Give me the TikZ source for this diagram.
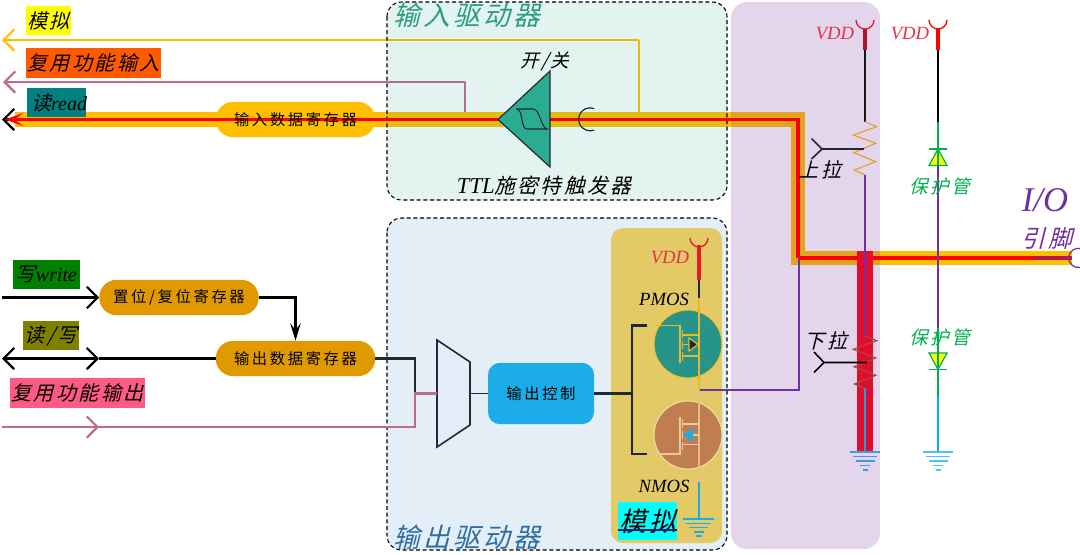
\documentclass[tikz,border=0pt]{standalone}
\usepackage{fontspec}
\usetikzlibrary{arrows.meta}
\setmainfont{Liberation Serif}
\newfontfamily\cjk[FakeSlant=0.25,LetterSpace=12]{Noto Sans CJK SC}
\newfontfamily\cjkup[LetterSpace=17]{Noto Sans CJK SC}
\newcommand{\szc}[1]{\fontsize{#1}{#1}\selectfont}
\newcommand{\nb}[1]{\makebox[0pt]{#1}}
\definecolor{amber}{HTML}{FFC000}
\definecolor{rose}{HTML}{C0698F}
\definecolor{tealp}{HTML}{2CA58D}
\definecolor{bluep}{HTML}{5B9BD5}
\definecolor{purp}{HTML}{7030A0}
\definecolor{goldp}{HTML}{E3CA66}
\definecolor{regdark}{HTML}{E09A00}
\definecolor{gr}{HTML}{00B050}
\definecolor{sky}{HTML}{1CADE8}
\definecolor{ink}{HTML}{1F2A36}
\definecolor{vddred}{HTML}{E8304A}
\definecolor{antred}{HTML}{E21D2D}
\definecolor{antdark}{HTML}{A81530}
\definecolor{barred}{HTML}{E20C2C}
\definecolor{mosyel}{HTML}{E8B828}
\definecolor{mospale}{HTML}{EEC896}
\definecolor{paleline}{HTML}{E8BE82}
\definecolor{resup}{HTML}{E2A532}
\definecolor{resdn}{HTML}{A0503A}
\definecolor{blueln}{HTML}{1CA0D8}
\definecolor{gndA}{HTML}{4696E1}
\definecolor{gndB}{HTML}{50C3F5}
\definecolor{cyanln}{HTML}{00B0F0}
\definecolor{ulblue}{HTML}{0A1E6E}
\definecolor{tagorange}{HTML}{FF5A00}
\definecolor{tagteal}{HTML}{008080}
\definecolor{taggreen}{HTML}{008000}
\definecolor{tagolive}{HTML}{808000}
\definecolor{tagpink}{HTML}{FF5A82}
\definecolor{tagcyan}{HTML}{00FFFF}
\definecolor{tagyellow}{HTML}{FFFF00}
\definecolor{tritri}{HTML}{2BAB8F}
\definecolor{inhead}{HTML}{2A9D80}
\definecolor{outhead}{HTML}{2E6DA4}
\definecolor{muxfill}{HTML}{E2EDF7}
\definecolor{pmosf}{HTML}{26948A}
\definecolor{nmosf}{HTML}{C07D50}
\tikzset{
  pxsize/.style={x=0.75pt,y=-0.75pt},
  barb/.tip={Straight Barb[length=8pt,width=16pt,line width=1.6pt]},
  panel/.style={rounded corners=11pt,fill opacity=#1,draw opacity=1},
  pill/.style={fill=amber,rounded corners=13pt,minimum width=119.5pt,minimum height=26.5pt,inner sep=0pt,font=\cjkup\szc{11.5}},
  labeltxt/.style={inner sep=0pt,font=\cjk\szc{15}},
  latin/.style={inner sep=0pt,font=\itshape\szc{14}},
  wire/.style={line width=1.2pt},
  heavy/.style={line width=1.7pt},
  gnd/.style={line width=0.9pt},
  mos/.style={line width=0.85pt},
}
\begin{document}
\begin{tikzpicture}[pxsize]
\useasboundingbox (0,0) rectangle (1080,554);
\fill[white] (0,0) rectangle (1080,554);
% anchors
\coordinate (wL) at (15,119.5);
\coordinate (wC1) at (798,119.5);
\coordinate (wC2) at (798,258);
\coordinate (wR) at (1072,258);
\coordinate (aL) at (2,40);
\coordinate (aC) at (639,40);
\coordinate (aD) at (639,119.5);
\coordinate (pL) at (3,82);
\coordinate (pC) at (465,82);
\coordinate (pD) at (465,119.5);
% under-panel wiring
\draw[amber,heavy,-{barb}] (aC) -- (aL);
\draw[amber,heavy] (aC) -- (aD);
\draw[rose,heavy,-{barb}] (pC) -- (pL);
\draw[rose,heavy] (pC) -- (pD);
\draw[amber,line width=10.8pt,miter limit=10] (wL) -- (wC1) -- (wC2) -- (wR);
% panels
\node[pill,minimum width=119.5pt] (inreg) at (295.5,119.5) {};
\fill[purp,fill opacity=.2,rounded corners=12pt] (731,2) rectangle (880,549);
\draw[fill=tealp,panel=.13,densely dashed,line width=.8pt] (387,2) rectangle (727,200);
\draw[fill=bluep,panel=.17,densely dashed,line width=.8pt] (387,218) rectangle (727,550);
\fill[goldp,rounded corners=9pt] (611,228) rectangle (722,543);
% read line
\coordinate (bL) at (2,119.5);
\coordinate (rT) at (5,119.5);
\draw[black,heavy,-{barb}] (wL) -- (bL);
\draw[red,line width=2.3pt,-{Stealth[length=14pt,width=10pt,inset=7pt]}] (wC2) -- (wC1) -- (rT);
\draw[red,line width=2.3pt] (wC2) -- (wR);
% labels top left
\node[fill=tagyellow,minimum width=33.75pt,minimum height=22pt,inner sep=0pt,font=\cjk\szc{15}] (tmn) at (48.5,20.5) {\nb{模拟}};
\node[fill=tagorange,minimum width=101pt,minimum height=22.5pt,inner sep=0pt,font=\cjk\szc{15}] (tmux) at (93.5,63) {\nb{复用功能输入}};
\node[fill=tagteal,minimum width=44pt,minimum height=22pt,inner sep=0pt] (trd) at (56.5,102.5) {\nb{\hspace{4pt}\cjk\szc{15}读\rmfamily\itshape\szc{15}read}};
\node[inner sep=0pt,font=\cjkup\szc{11.5}] (inregt) at (295.5,119.5) {输入数据寄存器};
% schmitt
\node[inner sep=0pt,font=\cjk\szc{20},text=inhead] (tin) at (467,15) {输入驱动器};
\node[inner sep=0pt,font=\cjk\szc{14}] (ton) at (545,61) {开/关};
\node[inner sep=0pt] (ttt) at (544,186) {\itshape\szc{17}TTL\cjk\szc{15.5}施密特触发器};
\draw[ink,line width=.9pt,fill=tritri] (498,119.5) -- (550,71) -- (550,167) -- cycle;
\draw[ink,line width=.8pt] (516,109) -- (533,109) .. controls (540,109) and (541,128) .. (547,129) -- (527,129) .. controls (520,129) and (524,109) .. (516,109);
\draw[ink,line width=.9pt] (594,108.5) arc[start angle=-70,end angle=-290,radius=11.5];
% output driver
\node[inner sep=0pt,font=\cjk\szc{20},text=outhead] (tout) at (467,537) {输出驱动器};
\node[fill=sky,rounded corners=9pt,minimum width=79.5pt,minimum height=46pt,inner sep=0pt,font=\cjkup\szc{11.5}] (ctl) at (541,393.5) {输出控制};
\draw[ink,line width=1.2pt,fill=muxfill] (437,340) -- (470,362) -- (470,425) -- (437,447) -- cycle;
\coordinate (muxL) at (437,393.5);
\coordinate (muxR) at (470,393.5);
\coordinate (brM) at (632,393.5);
\coordinate (brT) at (632,325.5);
\coordinate (brB) at (632,454);
\coordinate (brTe) at (647,325.5);
\coordinate (brBe) at (647,454);
\draw[ink,wire] (muxR) -- (ctl.west);
\draw[ink,heavy] (ctl.east) -- (brM);
\draw[ink,heavy] (brTe) -- (brT) -- (brB) -- (brBe);
% regs
\node[pill,fill=regdark] (setr) at (179,297.5) {置位/复位寄存器};
\node[pill,fill=regdark] (outr) at (295.5,358.5) {输出数据寄存器};
\coordinate (wI) at (2,297.5);
\coordinate (dL) at (2,358.5);
\coordinate (dM) at (99,358.5);
\coordinate (sC) at (295.5,297.5);
\coordinate (oC) at (415,358.5);
\coordinate (oM) at (415,393.5);
\coordinate (oB) at (415,427);
\coordinate (mI) at (2,427);
\coordinate (mM) at (99,427);
\draw[black,heavy,-{barb}] (wI) -- (setr.west);
\draw[black,heavy,-{Stealth[length=13pt,width=8pt,inset=5pt]}] (setr.east) -- (sC) -- (outr.north);
\draw[black,heavy,{barb}-{barb}] (dL) -- (dM);
\draw[black,heavy] (dM) -- (outr.west);
\draw[ink,heavy] (outr.east) -- (oC) -- (oM);
\draw[rose,heavy] (muxL) -- (oM) -- (oB) -- (mI);
\draw[rose,heavy,-{barb}] (mI) -- (mM);
\node[fill=taggreen,minimum width=50pt,minimum height=22pt,inner sep=0pt] (twr) at (46.5,274.5) {\nb{\cjk\szc{15}写\rmfamily\itshape\szc{15}write}};
\node[fill=tagolive,minimum width=42pt,minimum height=22pt,inner sep=0pt,font=\cjk\szc{15}] (trw) at (51,335.5) {\nb{读/写}};
\node[fill=tagpink,minimum width=101pt,minimum height=22.5pt,inner sep=0pt,font=\cjk\szc{15}] (tmo) at (77.5,393) {\nb{复用功能输出}};
% gold panel: mos
\node[circle,draw=amber!80!goldp,line width=.8pt,fill=pmosf,minimum size=51pt,inner sep=0pt] (pm) at (688,344) {};
\node[circle,draw=goldp!60!white,line width=.8pt,fill=nmosf,minimum size=51pt,inner sep=0pt] (nm) at (688,435) {};
\coordinate (vT) at (699,245);
\coordinate (vA) at (699,280);
\coordinate (vB) at (699,298);
\coordinate (vC) at (699,390);
\coordinate (vD) at (699,482);
\coordinate (vG) at (699,519);
\draw[purp,wire] (vC) -- (799,390) -- (799,258);
\draw[antred,line width=2.8pt] (vT) -- (vA);
\draw[antred,line width=1pt] (690,238) arc[start angle=180,end angle=0,radius=9];
\draw[ink,wire] (vA) -- (vB);
\draw[mosyel,wire] (vB) -- (vC);
\draw[paleline,wire] (vC) -- (vD);
\draw[sky,wire] (vD) -- (vG);
% pmos symbol
\begin{scope}[draw=mosyel,mos]
\draw (654,325.5) -- (680,325.5) -- (680,363);
\draw (682.5,330) -- (682.5,338) (682.5,341) -- (682.5,349) (682.5,352) -- (682.5,361);
\draw (682.5,335) -- (699,335) (682.5,356) -- (699,356) (682.5,344.5) -- (690,344.5);
\draw[fill=ink] (689,338) -- (698,344.5) -- (689,351) -- cycle;
\end{scope}
% nmos symbol
\begin{scope}[draw=mospale,mos]
\draw (654,454) -- (680,454) -- (680,417);
\draw (682.5,419) -- (682.5,428) (682.5,431) -- (682.5,439) (682.5,442) -- (682.5,450);
\draw (682.5,424) -- (699,424) (682.5,444.5) -- (699,444.5) (692,435) -- (699,435);
\fill[sky] (683,435) -- (693,428) -- (693,442) -- cycle;
\end{scope}
\node[latin,text=vddred] (v1) at (670,258) {VDD};
\node[latin] (tpm) at (664,299) {PMOS};
\node[latin] (tnm) at (664,486) {NMOS};
\node[fill=tagcyan,minimum width=44pt,minimum height=28.5pt,inner sep=0pt,font=\cjk\szc{20}] (tsim) at (647.5,521) {\nb{模拟}};
\coordinate (ulL) at (618,530);
\coordinate (ulR) at (677,530);
\draw[ulblue,line width=1.3pt] (ulL) -- (ulR);
% ground a
\draw[sky,gnd] (683,519) -- (714,519) (686,523.5) -- (711,523.5) (689,527.5) -- (708,527.5) (694,532) -- (704,532) (696,536) -- (702,536);
% pull up/down column
\coordinate (rA) at (865,50);
\coordinate (rB) at (865,121.7);
\coordinate (rC) at (865,175);
\coordinate (rD) at (865,335.7);
\coordinate (rE) at (865,388.3);
\coordinate (rF) at (865,451);
\fill[barred] (857,251) rectangle (873.3,451);
\draw[antdark,line width=2.8pt] (865,28) -- (rA);
\draw[antred,line width=1pt] (856,20) arc[start angle=180,end angle=0,radius=9];
\draw[black!90,wire] (rA) -- (rB);
\draw[resup,line width=.9pt] (rB) -- (876.7,126.7) -- (853.3,135) -- (875.7,143.3) -- (854,152.7) -- (875.7,161.7) -- (854.3,170) -- (rC);
\draw[purp,wire] (rC) -- (rD);
\draw[resdn,line width=.9pt] (rD) -- (876.7,340.7) -- (853.3,349.3) -- (875.7,358) -- (854,366.7) -- (875.7,375.3) -- (854.3,384) -- (rE);
\draw[blueln,wire] (rE) -- (rF);
\coordinate (sw1) at (822,149);
\coordinate (sw1e) at (864,149);
\coordinate (sw2) at (824,362.5);
\coordinate (sw2e) at (867,362.5);
\draw[ink,wire] (sw1e) -- (sw1) (811.5,138.5) -- (sw1) -- (811.5,159);
\draw[black,wire] (sw2e) -- (sw2) (814,352) -- (sw2) -- (814,372.5);
\node[labeltxt,font=\cjk\szc{15}] (tup) at (820,170) {上拉};
\node[labeltxt,font=\cjk\szc{15}] (tdn) at (826,341) {下拉};
\node[latin,text=vddred] (v2) at (835,34) {VDD};
\draw[gndA,gnd] (850,452) -- (880,452) (853,456.7) -- (877,456.7) (856,461) -- (875,461) (860,465.7) -- (870,465.7) (862.5,470) -- (867.5,470);
% protection column
\coordinate (dA) at (938,50);
\coordinate (dB) at (938,122);
\coordinate (dC) at (938,165);
\coordinate (dD) at (938,328);
\coordinate (dE) at (938,396);
\coordinate (dF) at (938,451);
\draw[red,line width=2.8pt] (938,28) -- (dA);
\draw[red,line width=1pt] (929,20) arc[start angle=180,end angle=0,radius=9];
\draw[black,wire] (dA) -- (dB);
\draw[gr,wire] (dB) -- (dC);
\draw[purp,wire] (dC) -- (dD);
\draw[gr,wire] (dD) -- (dE);
\draw[cyanln,wire] (dE) -- (dF);
\draw[gr,line width=.9pt,fill=tagyellow] (938,149) -- (947,165.5) -- (929,165.5) -- cycle;
\draw[gr,line width=.9pt] (929,149) -- (947,149);
\draw[gr,line width=.9pt,fill=tagyellow] (938,369.5) -- (947,353) -- (929,353) -- cycle;
\draw[gr,line width=.9pt] (929,369.5) -- (947,369.5);
\draw[gr,wire] (938,149) -- (938,165);
\draw[gr,wire] (938,353) -- (938,369.5);
\node[labeltxt,font=\cjk\szc{14},text=gr] (tp1) at (940,186) {保护管};
\node[labeltxt,font=\cjk\szc{14},text=gr] (tp2) at (940,337) {保护管};
\node[latin,text=vddred] (v3) at (910,34) {VDD};
\draw[gndB,gnd] (923,452) -- (953,452) (926,456.7) -- (950,456.7) (929,461) -- (948,461) (933,465.7) -- (943,465.7) (935.5,470) -- (940.5,470);
% I/O
\coordinate (io) at (1033,258);
\draw[purp,line width=2.2pt] (io) -- (wR);
\draw[purp,line width=.9pt] (1080,248.5) arc[start angle=-80,end angle=-280,radius=9.6];
\node[inner sep=0pt,font=\itshape\szc{26},text=purp] (tio) at (1045,200) {I/O};
\node[labeltxt,font=\cjk\szc{18},text=purp] (tpin) at (1047,238) {引脚};
\end{tikzpicture}
\end{document}
